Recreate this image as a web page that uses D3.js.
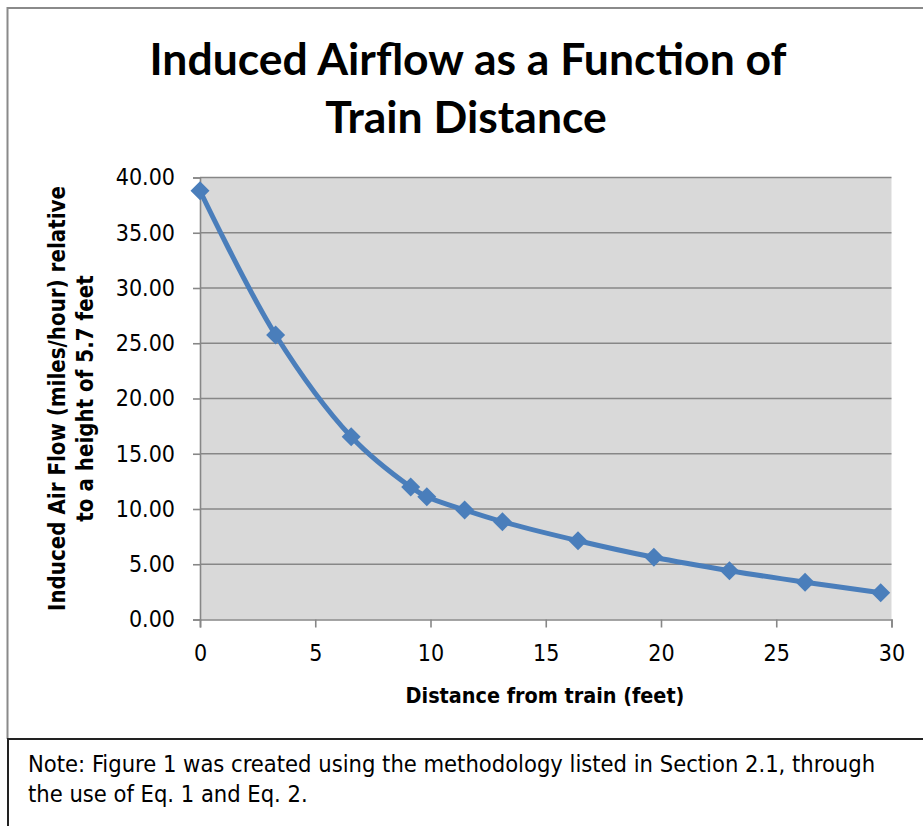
<!DOCTYPE html>
<html>
<head>
<meta charset="utf-8">
<script src="https://cdn.jsdelivr.net/npm/d3@7"></script>
<style>
  html, body { margin: 0; padding: 0; background: #ffffff; }
  svg { display: block; }
</style>
</head>
<body>
<script>
// ---- data ----
const distanceFeet = [0, 3.28, 6.56, 9.14, 9.84, 11.48, 13.12, 16.40, 19.69, 22.97, 26.25, 29.53];
const airflowMph   = [38.8, 25.75, 16.54, 11.99, 11.11, 9.91, 8.85, 7.13, 5.63, 4.42, 3.37, 2.43];
const xTicks = [0, 5, 10, 15, 20, 25, 30];
const yTicks = [0, 5, 10, 15, 20, 25, 30, 35, 40];
const titleLines = ["Induced Airflow as a Function of", "Train Distance"];
const yTitleLines = ["Induced Air Flow (miles/hour) relative", "to a height of 5.7 feet"];
const xTitle = "Distance from train (feet)";
const noteLines = ["Note: Figure 1 was created using the methodology listed in Section 2.1, through",
                   "the use of Eq. 1 and Eq. 2."];

const W = 923, H = 826;
const plot = { left: 200, right: 891.5, top: 177.5, bottom: 619.5 };
const tickFont = "'DejaVu Sans Condensed', 'DejaVu Sans', Verdana, sans-serif";
const titleFont = "Lato, 'Open Sans', sans-serif";
const lineColor = "#4A7EBB";
const gridColor = "#878787";

const svg = d3.select("body").append("svg").attr("width", W).attr("height", H);

// fit text width helper
function fit(sel, target) {
  const w = sel.node().getComputedTextLength();
  const fs = parseFloat(sel.attr("font-size"));
  sel.attr("font-size", (fs * target / w).toFixed(2));
  return fs * target / w;
}

// chart outer border (gray), open on the right
svg.append("path")
  .attr("d", `M${W + 5},8 L7.5,8 L7.5,739`)
  .attr("fill", "none").attr("stroke", "#8a8a8a").attr("stroke-width", 2);

// note box
svg.append("path")
  .attr("d", `M8,${H + 5} L8,739 L${W + 5},739`)
  .attr("fill", "none").attr("stroke", "#222").attr("stroke-width", 2);

// title
const t1 = svg.append("text").attr("x", 468).attr("y", 75)
  .attr("text-anchor", "middle").attr("font-family", titleFont).attr("font-weight", "bold")
  .attr("font-size", 40).attr("fill", "#000").text(titleLines[0]);
const tfs = fit(t1, 637);
svg.append("text").attr("x", 466).attr("y", 133)
  .attr("text-anchor", "middle").attr("font-family", titleFont).attr("font-weight", "bold")
  .attr("font-size", tfs).attr("fill", "#000").text(titleLines[1]);

// scales
const x = d3.scaleLinear().domain([0, 30]).range([plot.left, plot.right]);
const y = d3.scaleLinear().domain([0, 40]).range([plot.bottom, plot.top]);

// plot background
svg.append("rect")
  .attr("x", plot.left).attr("y", plot.top)
  .attr("width", plot.right - plot.left).attr("height", plot.bottom - plot.top)
  .attr("fill", "#D9D9D9");

// gridlines
svg.append("g").selectAll("line").data(yTicks.filter(d => d > 0)).join("line")
  .attr("x1", plot.left).attr("x2", plot.right)
  .attr("y1", d => y(d)).attr("y2", d => y(d))
  .attr("stroke", gridColor).attr("stroke-width", 1.6);

// y axis
const yAxis = svg.append("g").attr("transform", `translate(${plot.left},0)`)
  .call(d3.axisLeft(y).tickValues(yTicks).tickFormat(d3.format(".2f")).tickSize(7).tickPadding(18));
yAxis.select(".domain").attr("stroke", gridColor).attr("stroke-width", 1.6);
yAxis.selectAll(".tick line").attr("stroke", gridColor).attr("stroke-width", 1.6);
yAxis.selectAll(".tick text").attr("font-family", tickFont).attr("font-stretch", "condensed")
  .attr("font-size", 23).attr("fill", "#000");

// x axis
const xAxis = svg.append("g").attr("transform", `translate(0,${plot.bottom})`)
  .call(d3.axisBottom(x).tickValues(xTicks).tickFormat(d3.format("d")).tickSize(8).tickPadding(17));
xAxis.select(".domain").attr("stroke", gridColor).attr("stroke-width", 1.6);
xAxis.selectAll(".tick line").attr("stroke", gridColor).attr("stroke-width", 1.6);
xAxis.selectAll(".tick text").attr("font-family", tickFont).attr("font-stretch", "condensed")
  .attr("font-size", 23).attr("fill", "#000");

// axis titles
const xt = svg.append("text").attr("x", 545).attr("y", 703)
  .attr("text-anchor", "middle").attr("font-family", tickFont).attr("font-stretch", "condensed")
  .attr("font-weight", "bold").attr("font-size", 19).attr("fill", "#000").text(xTitle);
fit(xt, 279);

const yt = svg.append("g").attr("transform", `translate(0,${(plot.top + plot.bottom) / 2}) rotate(-90)`);
const yt1 = yt.append("text").attr("x", 0).attr("y", 57).attr("dy", "0.35em")
  .attr("text-anchor", "middle").attr("font-family", tickFont).attr("font-stretch", "condensed")
  .attr("font-weight", "bold").attr("font-size", 19).attr("fill", "#000").text(yTitleLines[0]);
const yfs = fit(yt1, 425);
yt.append("text").attr("x", 0).attr("y", 85).attr("dy", "0.35em")
  .attr("text-anchor", "middle").attr("font-family", tickFont).attr("font-stretch", "condensed")
  .attr("font-weight", "bold").attr("font-size", yfs).attr("fill", "#000").text(yTitleLines[1]);

// series
const pts = distanceFeet.map((d, i) => [d, airflowMph[i]]);
svg.append("path").datum(pts)
  .attr("d", d3.line().x(d => x(d[0])).y(d => y(d[1])).curve(d3.curveCatmullRom.alpha(0.5)))
  .attr("fill", "none").attr("stroke", lineColor).attr("stroke-width", 5)
  .attr("stroke-linejoin", "round").attr("stroke-linecap", "round");

const r = 9.5;
svg.append("g").selectAll("path").data(pts).join("path")
  .attr("transform", d => `translate(${x(d[0])},${y(d[1])})`)
  .attr("d", `M0,${-r}L${r},0L0,${r}L${-r},0Z`)
  .attr("fill", lineColor);

// note
const n1 = svg.append("text").attr("x", 28).attr("y", 772)
  .attr("font-family", tickFont).attr("font-stretch", "condensed")
  .attr("font-size", 21).attr("fill", "#000").text(noteLines[0]);
const nfs = fit(n1, 847);
svg.append("text").attr("x", 28).attr("y", 802)
  .attr("font-family", tickFont).attr("font-stretch", "condensed")
  .attr("font-size", nfs).attr("fill", "#000").text(noteLines[1]);
</script>
</body>
</html>
